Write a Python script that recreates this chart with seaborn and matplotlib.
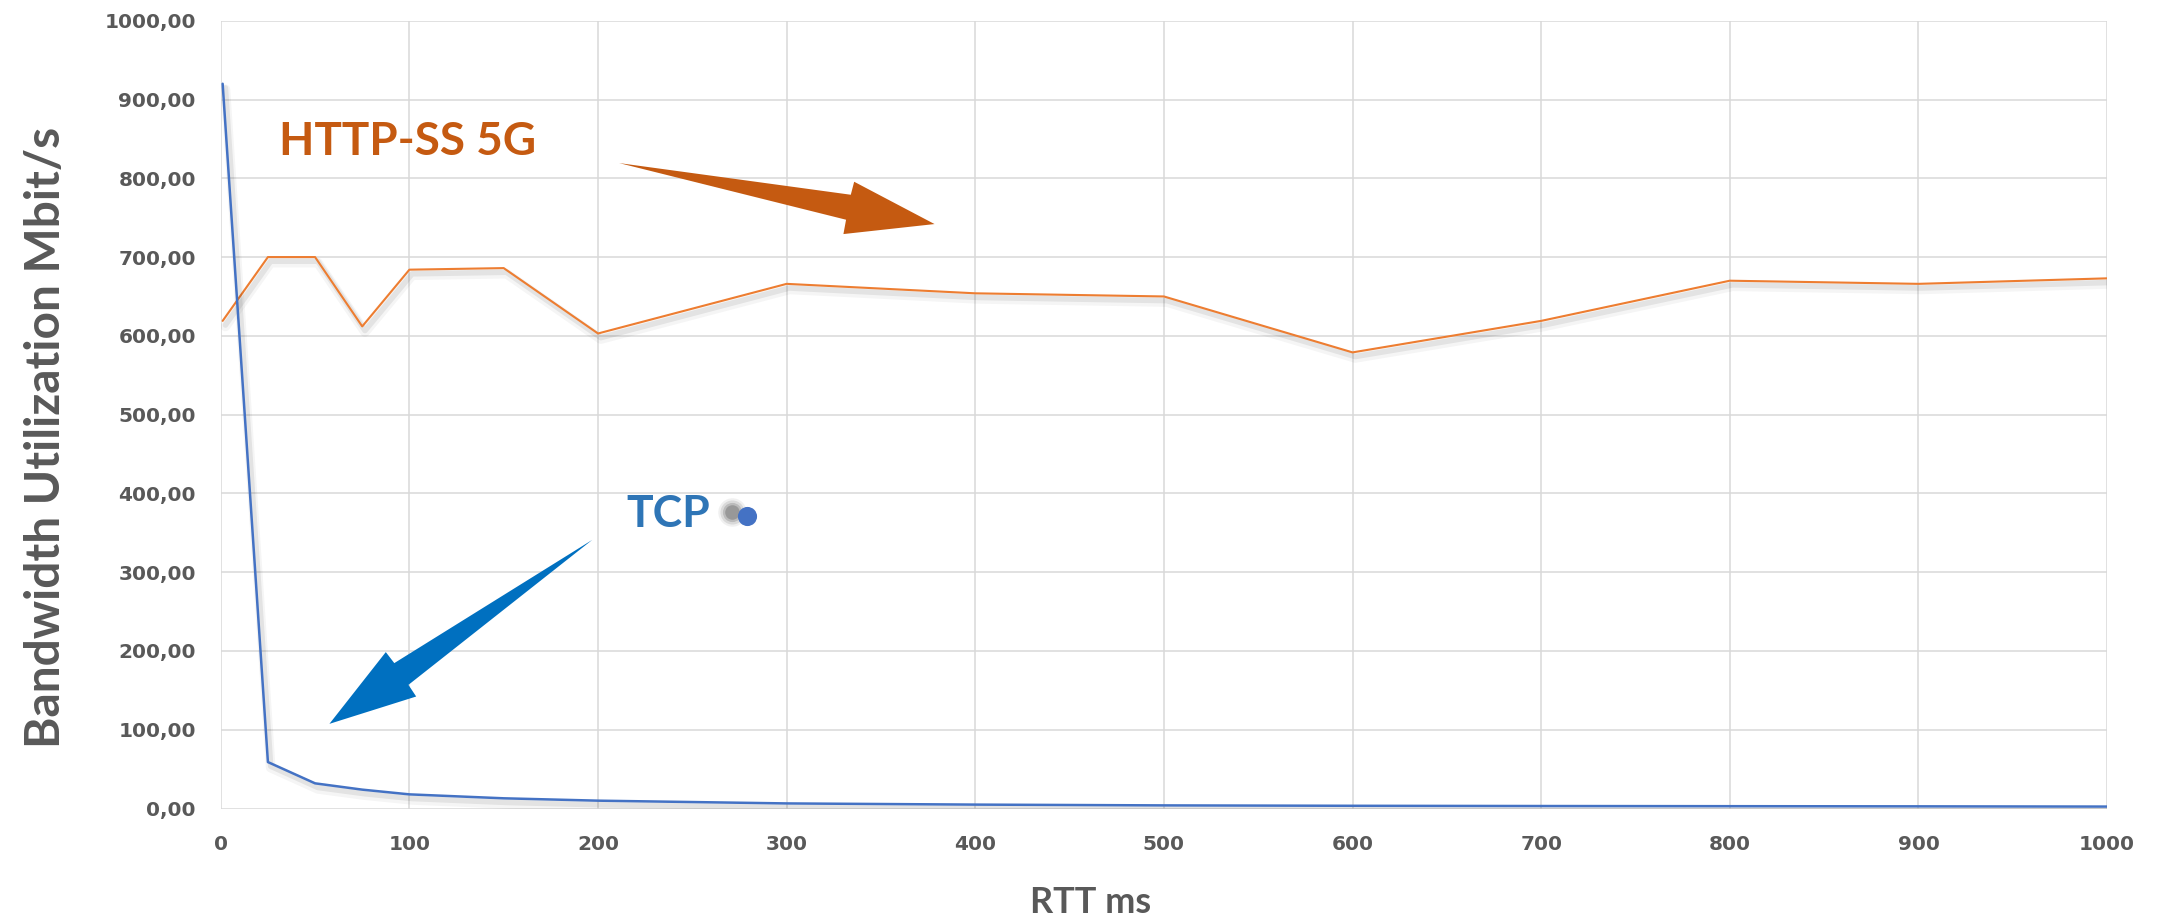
import numpy as np
import pandas as pd
import matplotlib
matplotlib.use('Agg')
import matplotlib.pyplot as plt
import matplotlib.patheffects as pe
import matplotlib.transforms as mtransforms
from matplotlib.patches import Polygon
import seaborn as sns

sns.set_theme(style='white')
plt.rcParams['font.family'] = ['DejaVu Sans']

# data
rtt_ms = [1, 25, 50, 75, 100, 150, 200, 300, 400, 500, 600, 700, 800, 900, 1000]
http_ss_5g = [619, 700, 700, 612, 684, 686, 603, 666, 654, 650, 579, 619, 670, 666, 673]
tcp = [920, 59, 32, 24, 18, 13, 10, 6.5, 5, 4, 3.5, 3.2, 3.0, 2.8, 2.5]
stray_point_x = [279]
stray_point_y = [371]

y_ticks = list(range(0, 1001, 100))
x_ticks = list(range(0, 1001, 100))

orange_line = '#ED7D31'
blue_line = '#4472C4'
orange_txt = '#C55A11'
blue_txt = '#2E75B6'
blue_arrow = '#0070C0'
gray_txt = '#595959'
grid_gray = '#D9D9D9'

df = pd.DataFrame({'rtt': rtt_ms, 'http': http_ss_5g, 'tcp': tcp})

fig = plt.figure(figsize=(21.6, 9.21), dpi=100)
ax = fig.add_axes([0.1022, 0.1221, 0.8733, 0.8554])

shadow = [pe.SimpleLineShadow(offset=(2, -4), shadow_color='black', alpha=0.04, linewidth=7),
          pe.SimpleLineShadow(offset=(2, -3), shadow_color='black', alpha=0.07, linewidth=4),
          pe.Normal()]
sns.lineplot(data=df, x='rtt', y='http', ax=ax, color=orange_line, lw=1.5, zorder=4)
sns.lineplot(data=df, x='rtt', y='tcp', ax=ax, color=blue_line, lw=1.8, zorder=4)
for ln in ax.lines:
    ln.set_path_effects(shadow)

# stray marker with its blurred shadow
for s, a in [(420, 0.07), (300, 0.12), (190, 0.18), (110, 0.25)]:
    tr = mtransforms.offset_copy(ax.transData, fig=fig, x=-11, y=3, units='points')
    ax.scatter(stray_point_x, stray_point_y, s=s, color='#333333', alpha=a, lw=0, transform=tr, zorder=5)
ax.scatter(stray_point_x, stray_point_y, s=190, color='#4472C4', lw=0, zorder=6)

# annotation arrows (data coords)
orange_arrow_pts = [(211.2, 819.3), (334.0, 779.1), (335.8, 795.6), (378.4, 741.9),
                    (330.1, 729.2), (331.5, 747.4)]
blue_arrow_pts = [(197.0, 341.1), (92.0, 184.6), (87.5, 198.6), (57.6, 107.5),
                  (103.6, 142.2), (99.5, 157.0)]
ax.add_patch(Polygon(orange_arrow_pts, closed=True, color=orange_txt, lw=0, zorder=5))
ax.add_patch(Polygon(blue_arrow_pts, closed=True, color=blue_arrow, lw=0, zorder=5))

ax.text(31.1, 829.9, 'HTTP-SS 5G', color=orange_txt, fontsize=33, fontweight='bold',
        family=['Lato', 'DejaVu Sans'], va='baseline', ha='left', zorder=6)
ax.text(215.1, 358.0, 'TCP', color=blue_txt, fontsize=32, fontweight='bold',
        family=['Lato', 'DejaVu Sans'], va='baseline', ha='left', zorder=6)

ax.set_xlim(0, 1000)
ax.set_ylim(0, 1000)
ax.set_xticks(x_ticks)
ax.set_yticks(y_ticks)
ax.set_yticklabels([f'{v:.2f}'.replace('.', ',') for v in y_ticks])
ax.grid(True, color=grid_gray, lw=1.1)
ax.set_axisbelow(True)
for sp in ax.spines.values():
    sp.set_visible(False)
ax.tick_params(axis='both', length=0, labelsize=14.5, labelcolor=gray_txt)
ax.tick_params(axis='x', pad=19)
ax.tick_params(axis='y', pad=18)
for lab in ax.get_xticklabels() + ax.get_yticklabels():
    lab.set_fontweight('bold')

ax.set_xlabel('')
ax.set_ylabel('')
fig.text(1090.7 / 2160, 1 - 913 / 921, 'RTT ms', fontsize=26, fontweight='bold', color=gray_txt,
         family=['Lato', 'DejaVu Sans'], ha='center', va='baseline')
fig.text(24 / 2160, 1 - 437.5 / 921, 'Bandwidth Utilization Mbit/s', rotation=90, fontsize=34.5,
         fontweight='bold', color=gray_txt, family=['Lato', 'DejaVu Sans'], ha='left', va='center')

fig.savefig('out.png', dpi=100)
